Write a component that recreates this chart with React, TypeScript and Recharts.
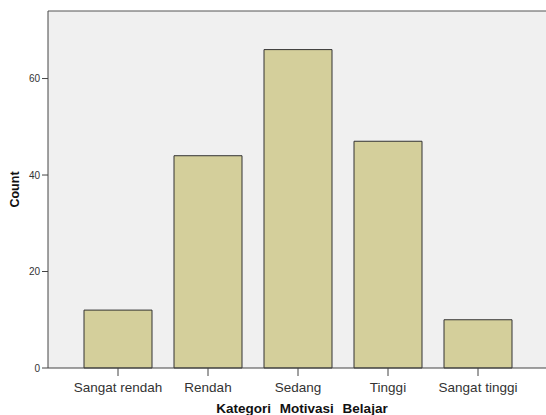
import React from "react";
import { BarChart, Bar, XAxis, YAxis, CartesianGrid, ReferenceLine, Label } from "recharts";

const categories = ["Sangat rendah", "Rendah", "Sedang", "Tinggi", "Sangat tinggi"];
const counts = [12, 44, 66, 47, 10];
const yTicks = [0, 20, 40, 60];

const data = categories.map((name, i) => ({ name, count: counts[i] }));

export default function App() {
  return (
    <div style={{ position: "absolute", left: 0, top: 0, width: 546, height: 415, background: "#ffffff" }}>
      <BarChart
        width={546}
        height={415}
        data={data}
        margin={{ top: 11, right: 0, bottom: 0, left: 0 }}
        barCategoryGap={11}
      >
        <CartesianGrid horizontal={false} vertical={false} fill="#f0f0f0" />
        <XAxis
          dataKey="name"
          height={47}
          padding={{ left: 25, right: 23 }}
          stroke="#444444"
          tickLine={{ stroke: "#444444" }}
          tickSize={8}
          tick={{ fill: "#333333", fontSize: 13.5, dy: 4, fontFamily: "Liberation Sans, Arial, sans-serif" }}
          interval={0}
        >
          <Label
            value="Kategori Motivasi Belajar"
            position="insideBottom"
            offset={2}
            dx={5}
            style={{ fontSize: 13.5, fontWeight: "bold", wordSpacing: 5, fill: "#111111", fontFamily: "Liberation Sans, Arial, sans-serif" }}
          />
        </XAxis>
        <YAxis
          width={48}
          domain={[0, 74]}
          ticks={yTicks}
          stroke="#444444"
          tickLine={{ stroke: "#444444" }}
          tickSize={6}
          tick={{ fill: "#333333", fontSize: 10, fontFamily: "Liberation Sans, Arial, sans-serif" }}
        >
          <Label
            value="Count"
            angle={-90}
            position="insideLeft"
            offset={15}
            style={{ fontSize: 12.5, fontWeight: "bold", fill: "#111111", fontFamily: "Liberation Sans, Arial, sans-serif", textAnchor: "middle" }}
          />
        </YAxis>
        <ReferenceLine y={74} stroke="#555555" strokeWidth={1} />
        <Bar dataKey="count" fill="#d4cf9b" stroke="#333333" strokeWidth={1} isAnimationActive={false} />
      </BarChart>
    </div>
  );
}
